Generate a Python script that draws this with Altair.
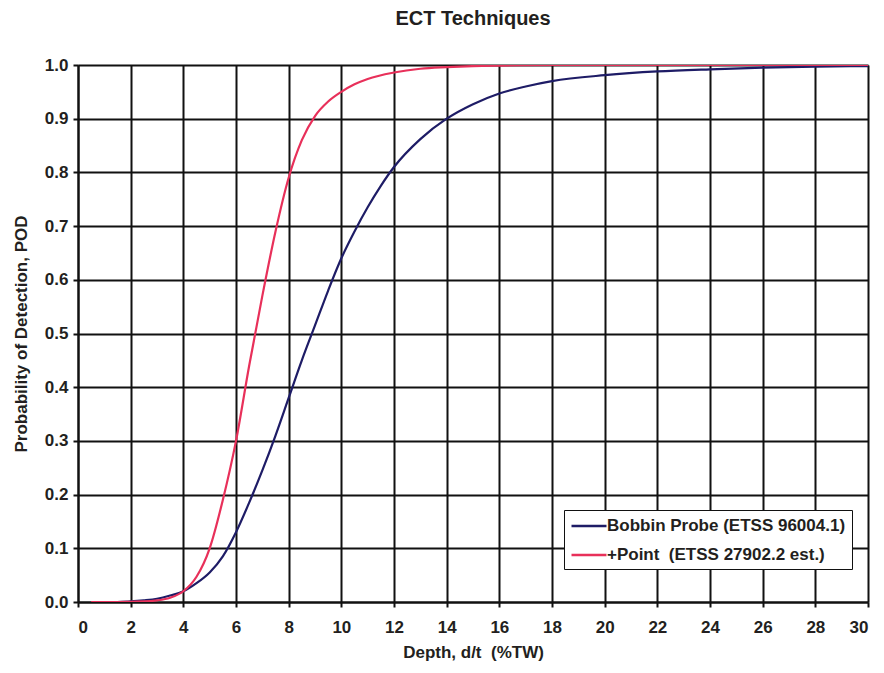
import altair as alt
import pandas as pd

# Bobbin Probe (ETSS 96004.1)
bobbin_x = [1.5, 2, 2.5, 3, 3.5, 4, 4.5, 5, 5.5, 6, 6.5, 7, 7.5, 8, 8.5, 9, 9.5, 10, 10.5, 11, 11.5, 12, 13, 14, 15, 16, 17, 18, 20, 22, 24, 26, 28, 30]
bobbin_y = [0.0, 0.001, 0.003, 0.006, 0.012, 0.02, 0.035, 0.055, 0.085, 0.13, 0.185, 0.245, 0.31, 0.38, 0.45, 0.515, 0.58, 0.64, 0.69, 0.735, 0.775, 0.81, 0.862, 0.90, 0.927, 0.947, 0.96, 0.970, 0.981, 0.988, 0.992, 0.995, 0.997, 0.998]

# +Point (ETSS 27902.2 est.)
point_x = [0.5, 1, 1.5, 2, 2.5, 3, 3.5, 4, 4.5, 5, 5.5, 6, 6.5, 7, 7.5, 8, 8.5, 9, 9.5, 10, 10.5, 11, 12, 13, 14, 15, 16, 18, 20, 25, 30]
point_y = [0.0, 0.0, 0.0, 0.0005, 0.001, 0.003, 0.008, 0.02, 0.047, 0.10, 0.19, 0.30, 0.44, 0.57, 0.69, 0.79, 0.86, 0.905, 0.932, 0.95, 0.964, 0.974, 0.986, 0.993, 0.996, 0.998, 0.999, 1.0, 1.0, 1.0, 1.0]

series_names = ["Bobbin Probe (ETSS 96004.1)", "+Point\u00a0 (ETSS 27902.2 est.)"]
series_colors = ["#1e1c66", "#e8305a"]

x_ticks = list(range(0, 31, 2))
y_ticks = [round(i / 10, 1) for i in range(0, 11)]

rows = []
for x, y in zip(bobbin_x, bobbin_y):
    rows.append({"depth": x, "pod": y, "series": series_names[0]})
for x, y in zip(point_x, point_y):
    rows.append({"depth": x, "pod": y, "series": series_names[1]})
df = pd.DataFrame(rows)

FONT = "Liberation Sans"
TXT = "#231f20"

chart = alt.Chart(df).mark_line(strokeWidth=2.2, interpolate="monotone", clip=True).encode(
    x=alt.X("depth:Q",
            scale=alt.Scale(domain=[0, 30], nice=False),
            axis=alt.Axis(title="Depth, d/t\u00a0 (%TW)", values=x_ticks, format="d",
                          grid=True, gridColor="#111", gridWidth=2, gridOpacity=1,
                          domainColor="#111", domainWidth=2,
                          tickColor="#111", tickWidth=2, tickSize=5,
                          labelFont=FONT, labelFontSize=17, labelFontWeight="bold", labelColor=TXT,
                          labelPadding=12,
                          titleFont=FONT, titleFontSize=17, titleFontWeight="bold", titleColor=TXT,
                          titlePadding=9)),
    y=alt.Y("pod:Q",
            scale=alt.Scale(domain=[0, 1], nice=False),
            axis=alt.Axis(title="Probability of Detection, POD", values=y_ticks, format=".1f",
                          grid=True, gridColor="#111", gridWidth=2, gridOpacity=1,
                          domainColor="#111", domainWidth=2,
                          tickColor="#111", tickWidth=2, tickSize=5,
                          labelFont=FONT, labelFontSize=17, labelFontWeight="bold", labelColor=TXT,
                          labelPadding=5,
                          titleFont=FONT, titleFontSize=17, titleFontWeight="bold", titleColor=TXT,
                          titlePadding=14)),
    color=alt.Color("series:N",
                    scale=alt.Scale(domain=series_names, range=series_colors),
                    legend=alt.Legend(title=None, orient="none", legendX=486, legendY=445,
                                      symbolType="M-2,0H2", symbolSize=306, symbolStrokeWidth=2.5,
                                      symbolOffset=9,
                                      labelFont=FONT, labelFontSize=17, labelFontWeight="bold",
                                      labelColor=TXT, labelLimit=400,
                                      strokeColor="#111", fillColor="white", padding=6,
                                      rowPadding=11, labelOffset=8)),
).properties(
    width=790,
    height=537,
    title=alt.TitleParams("ECT Techniques", font=FONT, fontSize=20, fontWeight="bold",
                          color=TXT, anchor="middle", offset=27),
    autosize=alt.AutoSizeParams(type="none"),
    padding={"left": 70, "top": 57, "right": 8, "bottom": 62},
).configure_view(stroke="#111", strokeWidth=2).configure(background="white")

chart.save("out.html", embed_options={"renderer": "svg", "actions": False})
